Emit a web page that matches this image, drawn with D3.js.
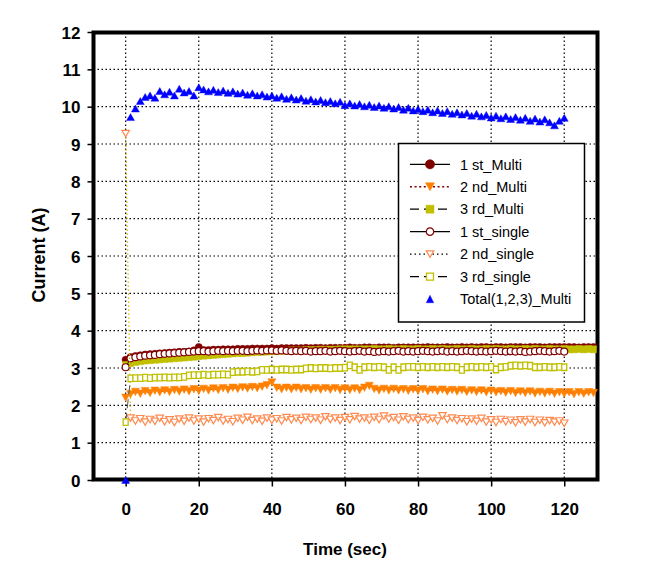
<!DOCTYPE html>
<html><head><meta charset="utf-8">
<script src="https://cdn.jsdelivr.net/npm/d3@7"></script>
<style>
html,body{margin:0;padding:0;background:#fff;}
svg{display:block;font-family:"Liberation Sans",Arial,sans-serif;}
</style>
</head><body>
<svg id="chart" width="652" height="585"></svg>
<script>
// ---------------- DATA ----------------
const xTickValues = [0, 20, 40, 60, 80, 100, 120];
const yTickValues = [0, 1, 2, 3, 4, 5, 6, 7, 8, 9, 10, 11, 12];
const xTitle = "Time (sec)";
const yTitle = "Current (A)";
const seriesNames = ["1 st_Multi", "2 nd_Multi", "3 rd_Multi", "1 st_single", "2 nd_single", "3 rd_single", "Total(1,2,3)_Multi"];
const sampleStep = 4 / 3; // seconds between logged samples

const firstMulti = [
  3.22, 3.29, 3.32, 3.34, 3.36, 3.37, 3.38, 3.39, 3.40, 3.41,
  3.42, 3.43, 3.43, 3.44, 3.47, 3.56, 3.48, 3.48, 3.49, 3.49,
  3.50, 3.50, 3.50, 3.51, 3.51, 3.51, 3.52, 3.52, 3.52, 3.52,
  3.53, 3.52, 3.53, 3.53, 3.53, 3.53, 3.53, 3.54, 3.53, 3.54,
  3.54, 3.53, 3.54, 3.54, 3.54, 3.54, 3.55, 3.54, 3.54, 3.55,
  3.55, 3.54, 3.55, 3.55, 3.55, 3.54, 3.55, 3.55, 3.55, 3.55,
  3.55, 3.55, 3.56, 3.55, 3.55, 3.55, 3.56, 3.55, 3.55, 3.56,
  3.55, 3.56, 3.55, 3.56, 3.56, 3.55, 3.56, 3.56, 3.55, 3.56,
  3.56, 3.56, 3.55, 3.56, 3.56, 3.56, 3.55, 3.56, 3.56, 3.56,
  3.56, 3.56, 3.56, 3.55, 3.56, 3.56, 3.56
];
const secondMulti = [
  2.20, 2.30, 2.36, 2.31, 2.38, 2.33, 2.39, 2.35, 2.40, 2.36,
  2.41, 2.37, 2.42, 2.38, 2.43, 2.39, 2.44, 2.40, 2.45, 2.41,
  2.46, 2.42, 2.47, 2.44, 2.48, 2.45, 2.49, 2.46, 2.50, 2.54,
  2.61, 2.47, 2.43, 2.47, 2.43, 2.47, 2.43, 2.46, 2.42, 2.46,
  2.42, 2.46, 2.42, 2.46, 2.41, 2.45, 2.41, 2.45, 2.41, 2.47,
  2.52, 2.44, 2.40, 2.44, 2.40, 2.44, 2.40, 2.43, 2.39, 2.43,
  2.39, 2.43, 2.38, 2.42, 2.38, 2.42, 2.37, 2.41, 2.37, 2.41,
  2.36, 2.40, 2.36, 2.40, 2.35, 2.39, 2.35, 2.38, 2.34, 2.38,
  2.33, 2.37, 2.33, 2.37, 2.32, 2.36, 2.32, 2.36, 2.31, 2.35,
  2.31, 2.35, 2.30, 2.35, 2.31, 2.35, 2.33
];
const thirdMulti = [
  3.08, 3.13, 3.16, 3.18, 3.20, 3.21, 3.22, 3.23, 3.24, 3.25,
  3.26, 3.27, 3.28, 3.29, 3.30, 3.32, 3.33, 3.34, 3.35, 3.36,
  3.37, 3.38, 3.39, 3.40, 3.40, 3.41, 3.42, 3.43, 3.43, 3.44,
  3.45, 3.45, 3.46, 3.46, 3.47, 3.47, 3.47, 3.48, 3.48, 3.48,
  3.49, 3.49, 3.49, 3.49, 3.50, 3.50, 3.50, 3.50, 3.50, 3.50,
  3.50, 3.51, 3.50, 3.50, 3.51, 3.50, 3.50, 3.51, 3.50, 3.50,
  3.51, 3.50, 3.50, 3.51, 3.50, 3.51, 3.50, 3.50, 3.51, 3.50,
  3.50, 3.51, 3.50, 3.50, 3.51, 3.50, 3.51, 3.50, 3.50, 3.51,
  3.50, 3.50, 3.51, 3.50, 3.51, 3.50, 3.50, 3.51, 3.50, 3.50,
  3.51, 3.50, 3.50, 3.51, 3.50, 3.51, 3.50
];
const firstSingle = [
  3.02, 3.26, 3.29, 3.31, 3.33, 3.34, 3.35, 3.37, 3.38, 3.39,
  3.40, 3.41, 3.42, 3.43, 3.44, 3.45, 3.45, 3.44, 3.45, 3.46,
  3.45, 3.46, 3.45, 3.46, 3.46, 3.45, 3.46, 3.47, 3.46, 3.47,
  3.47, 3.46, 3.47, 3.46, 3.45, 3.46, 3.45, 3.46, 3.44, 3.45,
  3.45, 3.46, 3.44, 3.45, 3.46, 3.45, 3.44, 3.45, 3.46, 3.44,
  3.45, 3.43, 3.44, 3.45, 3.44, 3.45, 3.46, 3.44, 3.45, 3.44,
  3.45, 3.46, 3.45, 3.44, 3.45, 3.46, 3.44, 3.45, 3.44, 3.45,
  3.46, 3.45, 3.44, 3.45, 3.44, 3.45, 3.46, 3.45, 3.44, 3.45,
  3.44, 3.45, 3.43, 3.44, 3.45, 3.46, 3.45, 3.44, 3.45, 3.46,
  3.44
];
const secondSingle = [
  9.28, 1.66, 1.58, 1.64, 1.55, 1.62, 1.57, 1.65, 1.56, 1.61,
  1.54, 1.63, 1.57, 1.66, 1.58, 1.63, 1.55, 1.64, 1.59, 1.67,
  1.58, 1.62, 1.56, 1.65, 1.60, 1.68, 1.59, 1.63, 1.57, 1.66,
  1.60, 1.64, 1.58, 1.67, 1.61, 1.65, 1.59, 1.68, 1.62, 1.66,
  1.60, 1.69, 1.62, 1.66, 1.59, 1.67, 1.61, 1.70, 1.63, 1.66,
  1.60, 1.68, 1.62, 1.71, 1.63, 1.67, 1.60, 1.69, 1.62, 1.66,
  1.59, 1.68, 1.61, 1.65, 1.58, 1.72, 1.62, 1.66, 1.59, 1.64,
  1.56, 1.63, 1.57, 1.65, 1.55, 1.61, 1.54, 1.62, 1.56, 1.60,
  1.53, 1.61, 1.55, 1.62, 1.54, 1.60, 1.53, 1.59, 1.55, 1.58,
  1.52
];
const thirdSingle = [
  1.55, 2.72, 2.73, 2.73, 2.74, 2.73, 2.74, 2.74, 2.75, 2.74,
  2.75, 2.75, 2.76, 2.80, 2.81, 2.81, 2.82, 2.81, 2.82, 2.82,
  2.83, 2.82, 2.89, 2.90, 2.90, 2.91, 2.90, 2.91, 2.95, 2.95,
  2.96, 2.95, 2.96, 2.96, 2.95, 2.96, 2.96, 2.99, 3.00, 2.99,
  3.00, 3.00, 2.99, 3.00, 3.00, 3.01, 3.07, 3.02, 2.95, 3.02,
  3.03, 3.02, 3.03, 3.02, 2.95, 3.02, 2.95, 3.02, 3.03, 3.03,
  3.02, 3.03, 3.02, 3.03, 3.02, 3.03, 3.02, 3.03, 3.02, 2.95,
  3.02, 3.03, 3.02, 3.03, 3.02, 3.03, 2.96, 3.02, 3.03, 3.06,
  3.07, 3.06, 3.07, 3.06, 3.02, 3.02, 3.03, 3.02, 3.02, 3.03,
  3.02
];
const totalMulti = [
  0.00, 9.72, 9.95, 10.15, 10.26, 10.30, 10.24, 10.42, 10.33, 10.40,
  10.30, 10.48, 10.38, 10.42, 10.30, 10.52, 10.46, 10.41, 10.45, 10.39,
  10.43, 10.37, 10.41, 10.35, 10.38, 10.32, 10.36, 10.30, 10.33, 10.27,
  10.30, 10.24, 10.28, 10.21, 10.25, 10.19, 10.23, 10.16, 10.20, 10.14,
  10.18, 10.12, 10.15, 10.09, 10.13, 10.04, 10.09, 10.03, 10.07, 10.01,
  10.05, 9.99, 10.03, 9.97, 10.01, 9.95, 9.99, 9.92, 9.97, 9.90,
  9.94, 9.88, 9.92, 9.85, 9.90, 9.83, 9.88, 9.81, 9.85, 9.79,
  9.83, 9.76, 9.81, 9.74, 9.78, 9.71, 9.76, 9.69, 9.74, 9.67,
  9.72, 9.65, 9.70, 9.62, 9.68, 9.60, 9.66, 9.58, 9.50, 9.62,
  9.70
];

// ---------------- LAYOUT ----------------
const svg = d3.select("#chart");
const plot = {left: 93.5, right: 597.5, top: 32.5, bottom: 479.5};
const x = d3.scaleLinear().domain([-8.8, 129.1]).range([plot.left, plot.right]);
const y = d3.scaleLinear().domain([0, 12]).range([480, 32]);

const DARKRED = "#800000", ORANGE = "#FF8000", OLIVE = "#C0C000", SALMON = "#FF8A50", BLUE = "#0000FF";

// marker shape paths centered at 0,0
const shapes = {
  circle: r => d3.arc()({innerRadius: 0, outerRadius: r, startAngle: 0, endAngle: 2 * Math.PI}),
  square: (w, h) => `M${-w/2},${-h/2}H${w/2}V${h/2}H${-w/2}Z`,
  triDown: (w, h) => `M${-w/2},${-h/2}L${w/2},${-h/2}L0,${h/2}Z`,
  triUp: (w, h) => `M0,${-h/2}L${w/2},${h/2}L${-w/2},${h/2}Z`
};

const series = [
  {name: seriesNames[0], values: firstMulti, line: "#000", dash: null, lineW: 1,
   mark: shapes.circle(3.6), legMark: shapes.circle(4.6), fill: DARKRED, stroke: DARKRED, sw: 0.6, legLine: "#000", legDash: null},
  {name: seriesNames[1], values: secondMulti, line: DARKRED, dash: "2,2", lineW: 1,
   mark: shapes.triDown(8, 7.5), legMark: shapes.triDown(9, 8), fill: ORANGE, stroke: ORANGE, sw: 0.5, legLine: DARKRED, legDash: "2,2.6"},
  {name: seriesNames[2], values: thirdMulti, line: "#000", dash: "9,5", lineW: 1,
   mark: shapes.square(6, 7), legMark: shapes.square(8, 8), fill: OLIVE, stroke: OLIVE, sw: 0.5, legLine: "#000", legDash: "9,5"},
  {name: seriesNames[3], values: firstSingle, line: "#000", dash: null, lineW: 1,
   mark: shapes.circle(3.5), legMark: shapes.circle(3.7), fill: "#fff", stroke: DARKRED, sw: 1.2, legLine: "#000", legDash: null},
  {name: seriesNames[4], values: secondSingle, line: "#D2C000", dash: "1.5,2.5", lineW: 1.2,
   mark: shapes.triDown(7.5, 6.5), legMark: shapes.triDown(7.5, 6.5), fill: "#fff", stroke: SALMON, sw: 1.2, legLine: "#000", legDash: "1.5,3"},
  {name: seriesNames[5], values: thirdSingle, line: "#555", dash: "9,5", lineW: 1,
   mark: shapes.square(5, 6.5), legMark: shapes.square(7, 7), fill: "#fff", stroke: OLIVE, sw: 1.3, legLine: "#000", legDash: "9,5"},
  {name: seriesNames[6], values: totalMulti, line: null, dash: null, lineW: 0,
   mark: shapes.triUp(8, 7), legMark: shapes.triUp(7.5, 7.5), fill: BLUE, stroke: BLUE, sw: 0.4, legLine: null, legDash: null}
];

// ---------------- GRID ----------------
const grid = svg.append("g");
grid.selectAll("line.h").data(yTickValues.filter(v => v > 0 && v < 12)).join("line")
  .attr("x1", plot.left).attr("x2", plot.right)
  .attr("y1", d => y(d)).attr("y2", d => y(d))
  .attr("stroke", "#000").attr("stroke-width", 1.2).attr("stroke-dasharray", "1.5,2.5");
grid.selectAll("line.v").data(xTickValues).join("line")
  .attr("x1", d => x(d)).attr("x2", d => x(d))
  .attr("y1", plot.top).attr("y2", plot.bottom)
  .attr("stroke", "#000").attr("stroke-width", 1.2).attr("stroke-dasharray", "1.5,2.5");

// ---------------- AXES ----------------
const yAxis = d3.axisLeft(y).tickValues(yTickValues).tickSize(6).tickPadding(7).tickFormat(d3.format("d"));
const gy = svg.append("g").attr("transform", `translate(${plot.left},0)`).call(yAxis);
const xAxis = d3.axisBottom(x).tickValues(xTickValues).tickSize(7).tickPadding(16).tickFormat(d3.format("d"));
const gx = svg.append("g").attr("transform", `translate(0,${plot.bottom})`).call(xAxis);
[gy, gx].forEach(g => {
  g.select(".domain").remove();
  g.selectAll(".tick line").attr("stroke", "#000").attr("stroke-width", 1.5);
  g.selectAll(".tick text").attr("fill", "#000").attr("font-size", 17).attr("font-weight", "bold")
    .attr("font-family", "'Liberation Sans', Arial, sans-serif");
});
gy.selectAll(".tick text").attr("dy", "0.36em");

// frame
svg.append("rect").attr("x", plot.left).attr("y", plot.top)
  .attr("width", plot.right - plot.left).attr("height", plot.bottom - plot.top)
  .attr("fill", "none").attr("stroke", "#000").attr("stroke-width", 4);

// titles
svg.append("text").attr("x", 345).attr("y", 555).attr("text-anchor", "middle")
  .attr("font-size", 17).attr("font-weight", "bold").text(xTitle);
svg.append("text").attr("transform", "translate(45,255) rotate(-90)").attr("text-anchor", "middle")
  .attr("font-size", 18).attr("font-weight", "bold").text(yTitle);

// ---------------- SERIES ----------------
const tOf = i => i * sampleStep;
series.forEach(s => {
  const g = svg.append("g");
  const pts = s.values.map((v, i) => [tOf(i), v]);
  if (s.line) {
    g.append("path").datum(pts)
      .attr("d", d3.line().x(d => x(d[0])).y(d => y(d[1])))
      .attr("fill", "none").attr("stroke", s.line).attr("stroke-width", s.lineW)
      .attr("stroke-dasharray", s.dash);
  }
  g.selectAll("path.m").data(pts).join("path").attr("class", "m")
    .attr("d", s.mark)
    .attr("transform", d => `translate(${x(d[0])},${y(d[1])})`)
    .attr("fill", s.fill).attr("stroke", s.stroke).attr("stroke-width", s.sw);
});

// ---------------- LEGEND ----------------
const leg = svg.append("g");
leg.append("rect").attr("x", 398.5).attr("y", 143.5).attr("width", 186).attr("height", 178.5)
  .attr("fill", "#fff").attr("stroke", "#000").attr("stroke-width", 1.5);
const rowY = i => 164.3 + i * 22.45;
series.forEach((s, i) => {
  const cy = rowY(i);
  if (s.legLine) {
    leg.append("line").attr("x1", 410).attr("x2", 450).attr("y1", cy).attr("y2", cy)
      .attr("stroke", s.legLine).attr("stroke-width", 1.3)
      .attr("stroke-dasharray", s.legDash);
  }
  leg.append("path").attr("d", s.legMark).attr("transform", `translate(430,${cy})`)
    .attr("fill", s.fill).attr("stroke", s.stroke).attr("stroke-width", s.sw);
  leg.append("text").attr("x", 460).attr("y", cy + 5.2).attr("font-size", 14.5).attr("fill", "#000").text(s.name);
});
</script>
</body></html>
